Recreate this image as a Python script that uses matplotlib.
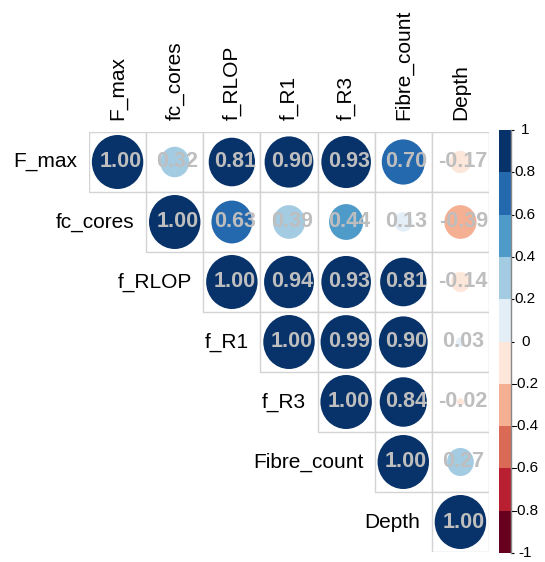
import numpy as np
import matplotlib
matplotlib.use("Agg")
import matplotlib.pyplot as plt
from matplotlib.patches import Ellipse, Rectangle

plt.rcParams["font.family"] = ["Liberation Sans", "DejaVu Sans"]

labels = ["F_max", "fc_cores", "f_RLOP", "f_R1", "f_R3", "Fibre_count", "Depth"]

# upper triangle of the correlation matrix, one list per row
row_F_max = [1.00, 0.32, 0.81, 0.90, 0.93, 0.70, -0.17]
row_fc_cores = [1.00, 0.63, 0.39, 0.44, 0.13, -0.39]
row_f_RLOP = [1.00, 0.94, 0.93, 0.81, -0.14]
row_f_R1 = [1.00, 0.99, 0.90, 0.03]
row_f_R3 = [1.00, 0.84, -0.02]
row_Fibre_count = [1.00, 0.27]
row_Depth = [1.00]
rows = [row_F_max, row_fc_cores, row_f_RLOP, row_f_R1, row_f_R3,
        row_Fibre_count, row_Depth]

cbar_ticks = [-1, -0.8, -0.6, -0.4, -0.2, 0, 0.2, 0.4, 0.6, 0.8, 1]
cbar_labels = ["-1", "-0.8", "-0.6", "-0.4", "-0.2", "0", "0.2", "0.4",
               "0.6", "0.8", "1"]

# 10 colour bins from -1 to 1
bin_colors = ["#67001F", "#B81F30", "#DA6A55", "#F5AF93", "#FDE6DA",
              "#E4EEF6", "#A3CCE3", "#4E9BCA", "#2468AE", "#08336A"]


def color_for(v):
    i = int(np.floor((v + 1) / 0.2))
    return bin_colors[min(max(i, 0), 9)]


W, H = 545, 562
fig = plt.figure(figsize=(W / 100, H / 100), dpi=100)
ax = fig.add_axes([89 / W, 1 - 552 / H, 400 / W, 420 / H])
n = len(labels)
ax.set_xlim(0, n)
ax.set_ylim(n, 0)
ax.axis("off")

for i, vals in enumerate(rows):
    for k, v in enumerate(vals):
        j = i + k
        ax.add_patch(Rectangle((j, i), 1, 1, facecolor="white",
                               edgecolor="#D3D3D3", lw=1))
        d = 0.9 * np.sqrt(abs(v))
        ax.add_patch(Ellipse((j + 0.5, i + 0.5), d, d,
                             facecolor=color_for(v), edgecolor="none"))
        ax.text(j + 0.55, i + 0.5, f"{v:.2f}", ha="center", va="center",
                fontsize=15.5, fontweight="bold", color="#BEBEBE")
    # row label to the left of the diagonal cell
    ax.text(i - 0.2, i + 0.5, labels[i], ha="right", va="center",
            fontsize=15, color="black")

for j, lab in enumerate(labels):
    ax.text(j + 0.5, -0.2, lab, ha="center", va="bottom", rotation=90,
            fontsize=15, color="black")

# colour legend
cax = fig.add_axes([499 / W, 1 - 553 / H, 12 / W, 423 / H])
edges = np.linspace(-1, 1, 11)
for b in range(10):
    cax.add_patch(Rectangle((0, edges[b]), 1, 0.2, facecolor=bin_colors[b],
                            edgecolor="none"))
cax.set_xlim(0, 1)
cax.set_ylim(-1, 1)
cax.set_xticks([])
cax.yaxis.tick_right()
cax.set_yticks(cbar_ticks)
cax.set_yticklabels([])
cax.tick_params(axis="y", length=2.5, width=0.8)
for t, lab in zip(cbar_ticks, cbar_labels):
    cax.text(2.2, t, lab, ha="center", va="center", fontsize=11,
             transform=cax.transData, clip_on=False)
for side in ["top", "bottom", "left"]:
    cax.spines[side].set_visible(False)
cax.spines["right"].set_color("#888888")
cax.spines["right"].set_linewidth(1)

fig.savefig("out.png", dpi=100)
